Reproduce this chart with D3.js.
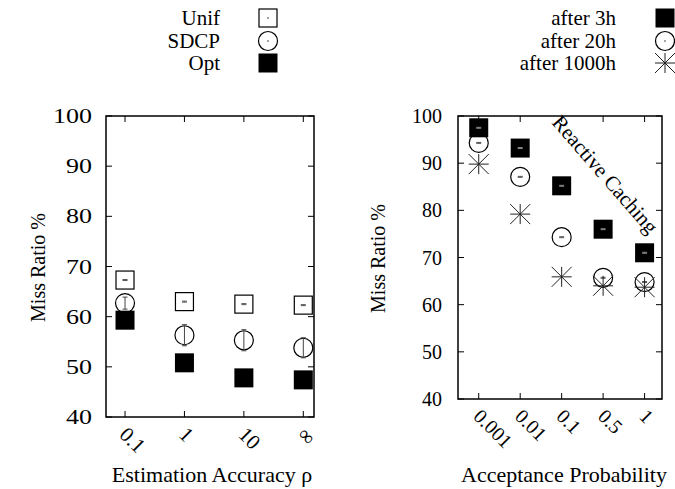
<!DOCTYPE html>
<html>
<head>
<meta charset="utf-8">
<script src="https://cdn.jsdelivr.net/npm/d3@7"></script>
<style>
  body { margin: 0; background: #fff; }
  svg { display: block; }
  text { font-family: "Liberation Serif", "Times New Roman", serif; fill: #000; }
</style>
</head>
<body>
<svg id="chart" width="675" height="489"></svg>
<script>
// ---- Data ----
const accuracyCats = ["0.1", "1", "10", "∞"];
const unifValues = [67.3, 63.0, 62.5, 62.3];
const unifErr = [0.1, 0.1, 0.1, 0.1];
const sdcpValues = [62.7, 56.3, 55.3, 53.8];
const sdcpErr = [1.2, 2.1, 2.1, 2.0];
const optValues = [59.3, 50.8, 47.8, 47.4];

const probCats = ["0.001", "0.01", "0.1", "0.5", "1"];
const after3hValues = [97.5, 93.2, 85.2, 76.0, 71.0];
const after20hValues = [94.3, 87.1, 74.3, 65.7, 64.8];
const after1000hValues = [89.8, 79.2, 65.9, 64.0, 63.7];
const smallErr = [0.1, 0.1, 0.1, 0.1, 0.1];

const yTicks = [40, 50, 60, 70, 80, 90, 100];
const leftLegend = ["Unif", "SDCP", "Opt"];
const rightLegend = ["after 3h", "after 20h", "after 1000h"];

// ---- Drawing ----
const svg = d3.select("#chart");
const FONT = 20;

function symbol(g, type, x, y) {
  const s = g.append("g").attr("transform", `translate(${x},${y})`);
  if (type === "openSquare") {
    s.append("rect").attr("x", -9).attr("y", -9).attr("width", 18).attr("height", 18)
      .attr("fill", "none").attr("stroke", "#000").attr("stroke-width", 1.2);
  } else if (type === "filledSquare") {
    s.append("rect").attr("x", -9.5).attr("y", -9.5).attr("width", 19).attr("height", 19)
      .attr("fill", "#000");
  } else if (type === "circle") {
    s.append("circle").attr("r", 9.5).attr("fill", "none").attr("stroke", "#000").attr("stroke-width", 1.2);
  } else if (type === "star") {
    const r = 10;
    [[-r, 0, r, 0], [0, -r, 0, r], [-r, -r, r, r], [-r, r, r, -r]].forEach(l => {
      s.append("line").attr("x1", l[0]).attr("y1", l[1]).attr("x2", l[2]).attr("y2", l[3])
        .attr("stroke", "#222").attr("stroke-width", 1);
    });
  }
  return s;
}

function errBar(g, x, y0, y1, color) {
  g.append("line").attr("x1", x).attr("x2", x).attr("y1", y0).attr("y2", y1)
    .attr("stroke", color).attr("stroke-width", 1);
  [y0, y1].forEach(yy => g.append("line").attr("x1", x - 2.5).attr("x2", x + 2.5)
    .attr("y1", yy).attr("y2", yy).attr("stroke", color).attr("stroke-width", 1));
}

function panel(cfg) {
  const g = svg.append("g");
  const x = d3.scaleLinear().domain(cfg.xDomain).range([cfg.left, cfg.right]);
  const y = d3.scaleLinear().domain([40, 100]).range([cfg.bottom, cfg.top]);
  const TL = 6;

  yTicks.forEach(t => {
    g.append("line").attr("x1", cfg.left).attr("x2", cfg.left + TL).attr("y1", y(t)).attr("y2", y(t))
      .attr("stroke", "#000");
    g.append("line").attr("x1", cfg.right).attr("x2", cfg.right - TL).attr("y1", y(t)).attr("y2", y(t))
      .attr("stroke", "#000");
    g.append("text").attr("transform", `translate(${cfg.left - cfg.yLabelGap},${y(t)}) scale(${cfg.yLabelStretch},1)`)
      .attr("dy", "0.35em")
      .attr("text-anchor", "end").attr("font-size", FONT).text(t);
  });
  cfg.cats.forEach((c, i) => {
    g.append("line").attr("x1", x(i)).attr("x2", x(i)).attr("y1", cfg.bottom).attr("y2", cfg.bottom - TL)
      .attr("stroke", "#000");
    g.append("line").attr("x1", x(i)).attr("x2", x(i)).attr("y1", cfg.top).attr("y2", cfg.top + TL)
      .attr("stroke", "#000");
    g.append("text").attr("transform", `translate(${x(i) - 1.5},${cfg.bottom + 13.5}) rotate(45)`)
      .attr("dy", "0.35em").attr("font-size", cfg.xLabelFont).text(c);
  });
  g.append("rect").attr("x", cfg.left).attr("y", cfg.top)
    .attr("width", cfg.right - cfg.left).attr("height", cfg.bottom - cfg.top)
    .attr("fill", "none").attr("stroke", "#000").attr("stroke-width", 1.5);

  g.append("text").attr("transform", `translate(${cfg.yTitleX},${(cfg.top + cfg.bottom) / 2 + 1}) rotate(-90)`)
    .attr("text-anchor", "middle").attr("dy", "0.35em").attr("font-size", FONT).text("Miss Ratio %");
  g.append("text").attr("x", cfg.xTitleX).attr("y", 482).attr("text-anchor", "middle")
    .attr("font-size", 22).text(cfg.xTitle);

  return { g, x, y };
}

const L = panel({
  left: 106, right: 314, top: 116, bottom: 417, xDomain: [-0.32, 3.18],
  cats: accuracyCats, yLabelGap: 14, yLabelStretch: 1.3, xLabelFont: 21,
  yTitleX: 38, xTitleX: 212, xTitle: "Estimation Accuracy ρ"
});
accuracyCats.forEach((c, i) => {
  const px = L.x(i);
  symbol(L.g, "openSquare", px, L.y(unifValues[i]));
  errBar(L.g, px, L.y(unifValues[i] + unifErr[i]), L.y(unifValues[i] - unifErr[i]), "#555");
  symbol(L.g, "circle", px, L.y(sdcpValues[i]));
  errBar(L.g, px, L.y(sdcpValues[i] + sdcpErr[i]), L.y(sdcpValues[i] - sdcpErr[i]), "#444");
  symbol(L.g, "filledSquare", px, L.y(optValues[i]));
});

const R = panel({
  left: 458, right: 662, top: 116, bottom: 399, xDomain: [-0.5, 4.42],
  cats: probCats, yLabelGap: 16, yLabelStretch: 1.0, xLabelFont: 20,
  yTitleX: 378, xTitleX: 564, xTitle: "Acceptance Probability"
});
probCats.forEach((c, i) => {
  const px = R.x(i);
  symbol(R.g, "filledSquare", px, R.y(after3hValues[i]));
  errBar(R.g, px, R.y(after3hValues[i] + smallErr[i]), R.y(after3hValues[i] - smallErr[i]), "#888");
  symbol(R.g, "circle", px, R.y(after20hValues[i]));
  errBar(R.g, px, R.y(after20hValues[i] + smallErr[i]), R.y(after20hValues[i] - smallErr[i]), "#555");
  symbol(R.g, "star", px, R.y(after1000hValues[i]));
});
R.g.append("text").attr("transform", "translate(551,123) rotate(49)")
  .attr("font-size", 21).text("Reactive Caching");

const legY = [18, 41, 63];
const leftTypes = ["openSquare", "circle", "filledSquare"];
leftLegend.forEach((t, i) => {
  svg.append("text").attr("x", 220).attr("y", legY[i]).attr("dy", "0.35em")
    .attr("text-anchor", "end").attr("font-size", 21).text(t);
  const s = symbol(svg, leftTypes[i], 268, legY[i]);
  if (i < 2) s.append("circle").attr("r", 0.7).attr("fill", "#000");
});
const rightTypes = ["filledSquare", "circle", "star"];
rightLegend.forEach((t, i) => {
  svg.append("text").attr("x", 616).attr("y", legY[i]).attr("dy", "0.35em")
    .attr("text-anchor", "end").attr("font-size", 21).text(t);
  const s = symbol(svg, rightTypes[i], 665, legY[i]);
  if (i === 1) s.append("circle").attr("r", 0.7).attr("fill", "#000");
});
</script>
</body>
</html>
